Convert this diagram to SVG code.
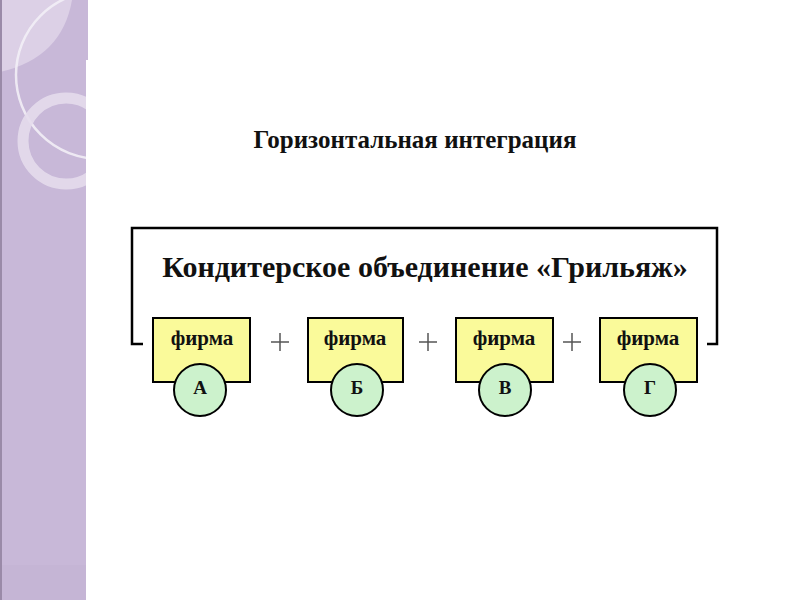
<svg xmlns="http://www.w3.org/2000/svg" width="800" height="600" viewBox="0 0 800 600">
<defs>
<style>
.t{font-family:"Liberation Serif","Times New Roman",serif;font-weight:bold;fill:#111;text-anchor:middle}
.box{fill:#fafa9a;stroke:#000;stroke-width:2}
.cir{fill:#ccf2cc;stroke:#000;stroke-width:2}
.plus{stroke:#555;stroke-width:1.5;fill:none}
.br{stroke:#000;stroke-width:2.5;fill:none}
</style>
<clipPath id="pc"><path d="M0,0 H88 V60 H86 V600 H0 Z"/></clipPath>
</defs>
<rect width="800" height="600" fill="#fff"/>
<g id="panel" clip-path="url(#pc)">
<rect x="0" y="0" width="88" height="600" fill="#c8b8d8"/>
<rect x="0" y="565" width="88" height="35" fill="#c5b5d5"/>
<path d="M0,0 H72 Q62,58 0,72 Z" fill="#dcd0e6"/>
<circle cx="100" cy="75" r="84" fill="none" stroke="#f2eef6" stroke-width="2.5" opacity="0.9"/>
<circle cx="66" cy="141" r="43" fill="none" stroke="#e4dcec" stroke-width="11" opacity="0.9"/>
<rect x="0" y="0" width="2" height="600" fill="#9a8aa8"/>
</g>
<text class="t" x="415" y="148" font-size="25">Горизонтальная интеграция</text>
<g id="connectors">
<path class="br" d="M143,344 H132 V228 H717 V344 H707"/>
<path class="plus" d="M271,342 H289 M280,333 V351"/>
<path class="plus" d="M419,342 H437 M428,333 V351"/>
<path class="plus" d="M563,342 H581 M572,333 V351"/>
</g>
<text class="t" x="425" y="277" font-size="30">Кондитерское объединение «Грильяж»</text>
<g id="firmA">
<rect class="box" x="153" y="318" width="97" height="64"/>
<text class="t" x="202" y="345" font-size="21">фирма</text>
<circle class="cir" cx="200" cy="390" r="26"/>
<text class="t" x="200" y="394" font-size="19">А</text>
</g>
<g id="firmB">
<rect class="box" x="308" y="318" width="95" height="64"/>
<text class="t" x="355" y="345" font-size="21">фирма</text>
<circle class="cir" cx="357" cy="390" r="26"/>
<text class="t" x="357" y="394" font-size="19">Б</text>
</g>
<g id="firmV">
<rect class="box" x="456" y="318" width="97" height="64"/>
<text class="t" x="504" y="345" font-size="21">фирма</text>
<circle class="cir" cx="505" cy="390" r="26"/>
<text class="t" x="505" y="394" font-size="19">В</text>
</g>
<g id="firmG">
<rect class="box" x="600" y="318" width="97" height="64"/>
<text class="t" x="648" y="345" font-size="21">фирма</text>
<circle class="cir" cx="650" cy="390" r="26"/>
<text class="t" x="650" y="394" font-size="19">Г</text>
</g>
</svg>
